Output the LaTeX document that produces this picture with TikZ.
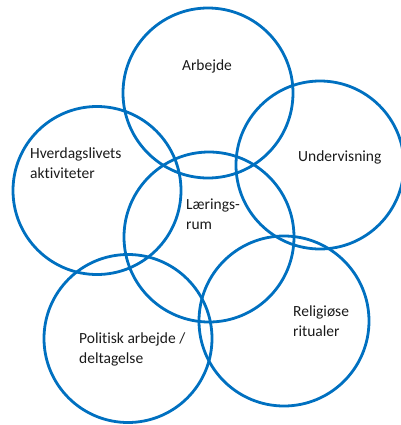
\documentclass[tikz,border=0pt]{standalone}
\usepackage{fontspec}
\setmainfont[RawFeature=-liga]{Carlito}
\definecolor{ringblue}{HTML}{0070C0}
\definecolor{txt}{HTML}{1A1A1A}
\tikzset{
  ring/.style={circle, draw=ringblue, line width=2.8bp, inner sep=0pt, minimum size=#1},
  lbl/.style={anchor=west, align=left, text=txt, font=\fontsize{15.5bp}{20bp}\selectfont, inner sep=0pt}
}
\begin{document}
\begin{tikzpicture}[x=1bp,y=-1bp]
\useasboundingbox (0,0) rectangle (401,425);
\clip (0,0) rectangle (401,425);
\node[ring=170bp] (arb) at (208,93) {};
\node[ring=168bp] (und) at (320,165) {};
\node[ring=168bp] (hve) at (97,190.5) {};
\node[ring=170bp] (lae) at (209,237) {};
\node[ring=168bp] (pol) at (128,338.5) {};
\node[ring=170bp] (rel) at (284,321) {};
\node[lbl, anchor=center] (tarb) at (207,66) {Arbejde};
\node[lbl] (tund) at (298,157) {Undervisning};
\node[lbl] (thve) at (30,163) {Hverdagslivets\\aktiviteter};
\node[lbl] (tlae) at (186,214) {Lærings-\\rum};
\node[lbl] (trel) at (293,321) {Religiøse\\ritualer};
\node[lbl] (tpol) at (79,349) {Politisk arbejde /\\deltagelse};
\end{tikzpicture}
\end{document}
